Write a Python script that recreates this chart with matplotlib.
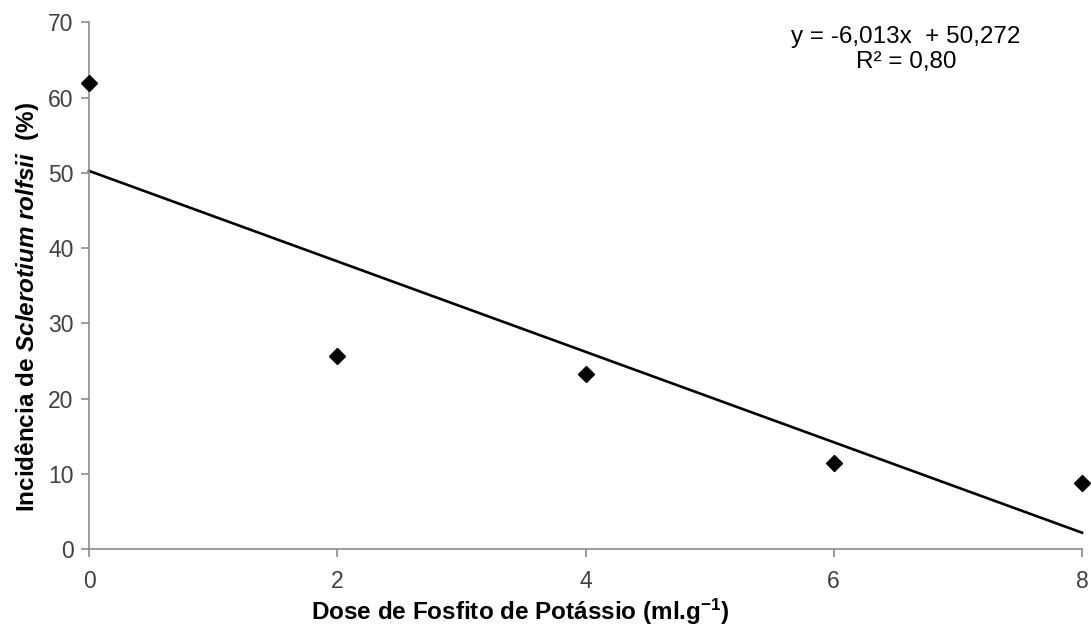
import matplotlib
matplotlib.use("Agg")
import matplotlib.pyplot as plt
import numpy as np

# Data
doses = [0, 2, 4, 6, 8]
incidencia = [61.9, 25.7, 23.3, 11.4, 8.8]
slope = -6.013
intercept = 50.272
x_ticks = [0, 2, 4, 6, 8]
y_ticks = [0, 10, 20, 30, 40, 50, 60, 70]
eq_text = "y = -6,013x  + 50,272"
r2_text = "R² = 0,80"

plt.rcParams['font.family'] = ['Liberation Sans', 'DejaVu Sans']
plt.rcParams['mathtext.fontset'] = 'custom'
plt.rcParams['mathtext.rm'] = 'Liberation Sans'
plt.rcParams['mathtext.it'] = 'Liberation Sans:italic'
plt.rcParams['mathtext.bf'] = 'Liberation Sans:bold'
plt.rcParams['mathtext.bfit'] = 'Liberation Sans:bold:italic'

fig = plt.figure(figsize=(10.91, 6.34), dpi=100)
ax = fig.add_axes([89/1091, 1 - 549/634, (1082 - 89)/1091, (549 - 22.5)/634])

xl = np.array([doses[0], doses[-1]], dtype=float)
ax.plot(xl, slope * xl + intercept, color='black', lw=1.9, zorder=2, clip_on=False)
ax.plot(doses, incidencia, linestyle='none', marker='D', markersize=8,
        color='black', zorder=3, clip_on=False)

ax.set_xlim(0, 8)
ax.set_ylim(0, 70)
ax.set_xticks(x_ticks)
ax.set_yticks(y_ticks)
for s in ['top', 'right']:
    ax.spines[s].set_visible(False)
for s in ['left', 'bottom']:
    ax.spines[s].set_color('#8c8c8c')
    ax.spines[s].set_linewidth(1.2)
ax.tick_params(axis='both', direction='out', length=6, width=1.2, color='#8c8c8c',
               labelsize=16.5, labelcolor='#404040')
ax.tick_params(axis='x', pad=9)
ax.tick_params(axis='y', pad=5)

fig.text(520/1091, 1 - 612/634, r'Dose de Fosfito de Potássio (ml.g$^{\mathbf{-1}}$)',
         ha='center', va='center', fontsize=17.5, fontweight='bold')
fig.text(27/1091, 1 - 307/634,
         r'$\mathbf{Incidência\ de\ }\mathbfit{Sclerotium\ rolfsii}\mathbf{\ \ (\%)}$',
         ha='center', va='center', rotation=90, fontsize=17.5)

fig.text(906/1091, 1 - 37/634, eq_text, ha='center', va='center', fontsize=17.5, color='black')
fig.text(906/1091, 1 - 62/634, r2_text, ha='center', va='center', fontsize=17.5, color='black')

fig.savefig('out.png', dpi=100)
